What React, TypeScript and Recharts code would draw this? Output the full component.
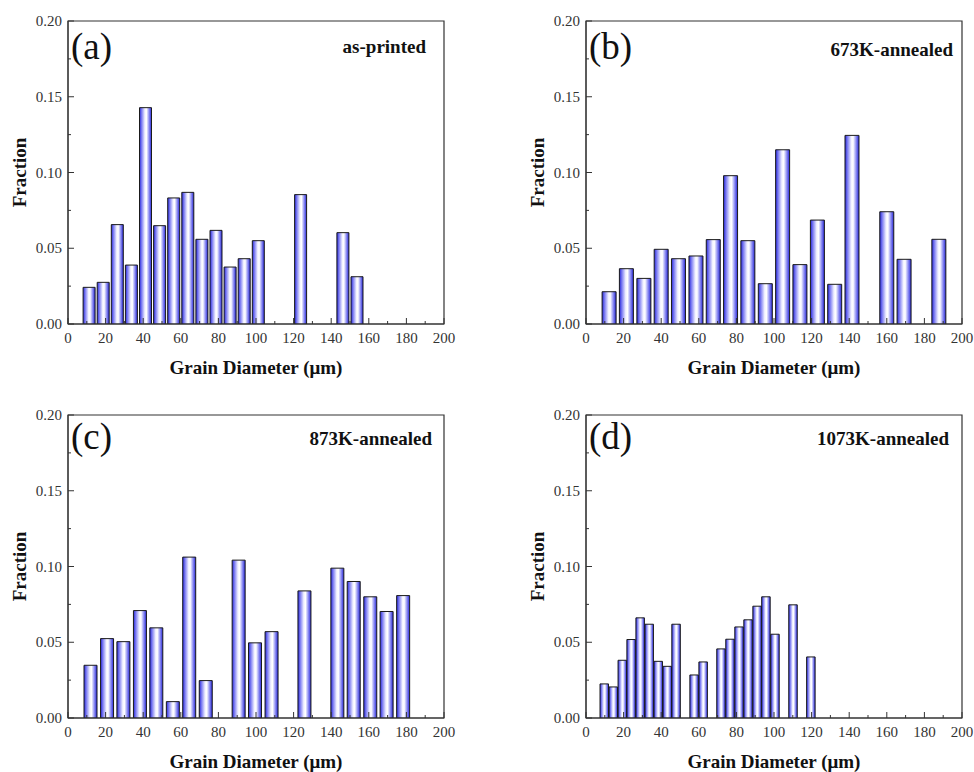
import { BarChart, Bar, XAxis, YAxis, ReferenceArea } from 'recharts';

const FONT = "'Liberation Serif', 'DejaVu Serif', 'Times New Roman', Times, serif";
const INK = '#333';

// shared axis ticks (minor ticks get no label)
const xTicks = [0, 10, 20, 30, 40, 50, 60, 70, 80, 90, 100, 110, 120, 130, 140, 150, 160, 170, 180, 190, 200];
const yTicks = [0, 0.025, 0.05, 0.075, 0.1, 0.125, 0.15, 0.175, 0.2];

// (a) as-printed
const diameterA = [11.25, 18.75, 26.25, 33.75, 41.25, 48.75, 56.25, 63.75, 71.25, 78.75, 86.25, 93.75, 101.25, 123.75, 146.25, 153.75];
const fractionA = [0.0242, 0.0275, 0.0656, 0.0389, 0.1428, 0.0649, 0.0832, 0.0869, 0.0559, 0.0618, 0.0376, 0.0431, 0.055, 0.0854, 0.0603, 0.0312];

// (b) 673K-annealed
const diameterB = [12.1, 21.3, 30.6, 39.8, 49.0, 58.3, 67.5, 76.7, 85.9, 95.2, 104.4, 113.6, 122.9, 132.1, 141.3, 159.8, 169.0, 187.5];
const fractionB = [0.0213, 0.0365, 0.0301, 0.0493, 0.0431, 0.0449, 0.0557, 0.0979, 0.055, 0.0266, 0.115, 0.0392, 0.0686, 0.0262, 0.1245, 0.0741, 0.0427, 0.0559];

// (c) 873K-annealed
const diameterC = [11.8, 20.6, 29.3, 38.1, 46.8, 55.6, 64.3, 73.1, 90.6, 99.3, 108.1, 125.6, 143.1, 151.8, 160.6, 169.3, 178.1];
const fractionC = [0.0348, 0.0524, 0.0504, 0.0709, 0.0595, 0.0108, 0.1062, 0.0247, 0.1042, 0.0496, 0.057, 0.0839, 0.0989, 0.0901, 0.08, 0.0703, 0.0808];

// (d) 1073K-annealed
const diameterD = [9.8, 14.6, 19.4, 24.1, 28.9, 33.7, 38.5, 43.3, 48.0, 57.6, 62.4, 71.9, 76.7, 81.5, 86.3, 91.1, 95.8, 100.6, 110.2, 119.7];
const fractionD = [0.0225, 0.0205, 0.0381, 0.0518, 0.0661, 0.0619, 0.0374, 0.0341, 0.0619, 0.0284, 0.037, 0.0456, 0.052, 0.0601, 0.0648, 0.0738, 0.08, 0.0553, 0.0747, 0.0403];

const toRows = (d: number[], f: number[]) => d.map((x, i) => ({ d: x, f: f[i] }));

const XTick = (props: any) => {
  const { x, y, payload } = props;
  const v = payload.value as number;
  const major = v % 20 === 0;
  return (
    <g>
      <line x1={x} x2={x} y1={y} y2={y - (major ? 6 : 3)} stroke={INK} />
      {major && (
        <text x={x} y={y + 19} textAnchor="middle" style={{ fontFamily: FONT }} fontSize={15} fill={INK}>
          {v}
        </text>
      )}
    </g>
  );
};

const YTick = (props: any) => {
  const { x, y, payload } = props;
  const v = payload.value as number;
  const major = Math.abs(v * 20 - Math.round(v * 20)) < 1e-6;
  return (
    <g>
      <line x1={x} x2={x + (major ? 6 : 3)} y1={y} y2={y} stroke={INK} />
      {major && (
        <text x={x - 6} y={y} dy={5} textAnchor="end" style={{ fontFamily: FONT }} fontSize={15} fill={INK}>
          {v.toFixed(2)}
        </text>
      )}
    </g>
  );
};

const XTitle = (props: any) => {
  const vb = props.viewBox;
  return (
    <text x={vb.x + vb.width / 2} y={vb.y + 50} textAnchor="middle" style={{ fontFamily: FONT }} fontWeight="bold" fontSize={19} fill="#111">
      Grain Diameter (μm)
    </text>
  );
};

const YTitle = (props: any) => {
  const vb = props.viewBox;
  const cx = vb.x + vb.width - 48;
  const cy = vb.y + vb.height / 2;
  return (
    <text x={cx} y={cy} transform={`rotate(-90 ${cx} ${cy})`} dy={6} textAnchor="middle" style={{ fontFamily: FONT }} fontWeight="bold" fontSize={19} fill="#111">
      Fraction
    </text>
  );
};

type PanelProps = {
  id: string;
  left: number;
  top: number;
  yWidth: number;
  marginTop: number;
  marginRight: number;
  xHeight: number;
  barSize: number;
  rows: { d: number; f: number }[];
};

function Panel({ id, left, top, yWidth, marginTop, marginRight, xHeight, barSize, rows }: PanelProps) {
  return (
    <div style={{ position: 'absolute', left, top }}>
      <BarChart width={487} height={386} data={rows} margin={{ top: marginTop, right: marginRight, bottom: 0, left: 0 }}>
        <defs>
          <linearGradient id={id} x1="0" y1="0" x2="1" y2="0">
            <stop offset="0%" stopColor="#2626d8" />
            <stop offset="18%" stopColor="#7c7cf2" />
            <stop offset="45%" stopColor="#f2f2ff" />
            <stop offset="58%" stopColor="#ffffff" />
            <stop offset="80%" stopColor="#8a8af2" />
            <stop offset="100%" stopColor="#2626d8" />
          </linearGradient>
        </defs>
        <XAxis
          type="number"
          dataKey="d"
          domain={[0, 200]}
          ticks={xTicks}
          interval={0}
          tickSize={0}
          tickMargin={0}
          tick={XTick}
          height={xHeight}
          axisLine={{ stroke: INK }}
          allowDataOverflow
          label={XTitle}
        />
        <YAxis
          type="number"
          domain={[0, 0.2]}
          ticks={yTicks}
          interval={0}
          tickSize={0}
          tickMargin={0}
          tick={YTick}
          width={yWidth}
          axisLine={{ stroke: INK }}
          allowDataOverflow
          label={YTitle}
        />
        <Bar dataKey="f" fill={`url(#${id})`} stroke="#1a1a1a" strokeWidth={1} barSize={barSize} isAnimationActive={false} />
        <ReferenceArea x1={0} x2={200} y1={0} y2={0.2} fill="none" fillOpacity={0} stroke={INK} strokeWidth={1.2} />
      </BarChart>
    </div>
  );
}

const panelTag = { fontSize: 37, fill: '#111' };
const panelNote = { fontSize: 19, fontWeight: 'bold' as const, fill: '#111' };

export default function App() {
  return (
    <div style={{ position: 'absolute', left: 0, top: 0, width: 974, height: 772, background: '#fff' }}>
      <Panel id="gA" left={0} top={0} yWidth={68} marginTop={21} marginRight={43} xHeight={62} barSize={12} rows={toRows(diameterA, fractionA)} />
      <Panel id="gB" left={487} top={0} yWidth={99} marginTop={21} marginRight={12} xHeight={62} barSize={14} rows={toRows(diameterB, fractionB)} />
      <Panel id="gC" left={0} top={386} yWidth={68} marginTop={29} marginRight={43} xHeight={54} barSize={13} rows={toRows(diameterC, fractionC)} />
      <Panel id="gD" left={487} top={386} yWidth={99} marginTop={29} marginRight={12} xHeight={54} barSize={8.5} rows={toRows(diameterD, fractionD)} />
      <svg width={974} height={772} style={{ position: 'absolute', left: 0, top: 0, pointerEvents: 'none', fontFamily: FONT }}>
        <text x={71} y={59} {...panelTag}>(a)</text>
        <text x={589} y={59} {...panelTag}>(b)</text>
        <text x={71} y={449} {...panelTag}>(c)</text>
        <text x={589} y={449} {...panelTag}>(d)</text>
        <text x={426} y={53} textAnchor="end" {...panelNote}>as-printed</text>
        <text x={953} y={56} textAnchor="end" {...panelNote}>673K-annealed</text>
        <text x={432} y={445} textAnchor="end" {...panelNote}>873K-annealed</text>
        <text x={949} y={445} textAnchor="end" {...panelNote}>1073K-annealed</text>
      </svg>
    </div>
  );
}
